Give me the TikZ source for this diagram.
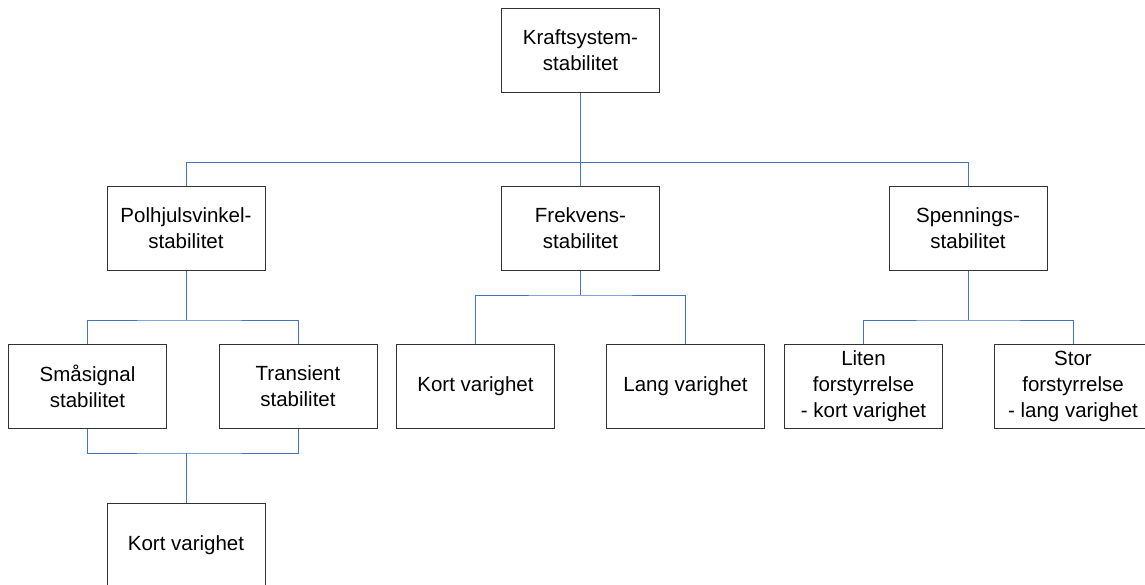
\documentclass[tikz,border=0pt]{standalone}
\usepackage{fontspec}
\setmainfont{Liberation Sans}
\definecolor{connblue}{RGB}{68,114,196}
\definecolor{boxgray}{RGB}{50,50,50}
\tikzset{
  box/.style={draw=boxgray, line width=1pt, fill=white, rectangle, minimum width=158pt, minimum height=84pt, inner sep=0pt, align=center, font=\fontsize{20.5pt}{26pt}\selectfont},
  conn/.style={draw=connblue, line width=1pt}
}
\begin{document}
\begin{tikzpicture}[x=1pt,y=-1pt]
\useasboundingbox (0,0) rectangle (1145,584);
\clip (0,0) rectangle (1145,584);
% nodes
\node[box] (top) at (580.5,50) {Kraftsystem-\\stabilitet};
\node[box] (pol) at (186,228) {Polhjulsvinkel-\\stabilitet};
\node[box] (frek) at (580.5,228) {Frekvens-\\stabilitet};
\node[box] (spen) at (968,228) {Spennings-\\stabilitet};
\node[box] (sma) at (87.5,386) {Småsignal\\stabilitet};
\node[box] (tra) at (298,386) {Transient\\stabilitet};
\node[box] (kort) at (475.5,386) {Kort varighet};
\node[box] (lang) at (685.5,386) {Lang varighet};
\node[box] (lit) at (863.5,386) {Liten\\forstyrrelse\\- kort varighet};
\node[box] (stor) at (1073,386) {Stor\\forstyrrelse\\- lang varighet};
\node[box] (kort2) at (186,545) {Kort varighet};
% bus coordinates
\coordinate (b1) at (580.5,162);
\coordinate (b2) at (186,320);
\coordinate (b3) at (580.5,295);
\coordinate (b4) at (968,320);
\coordinate (b5) at (186,453);
% connectors
\draw[conn] (top.south) -- (frek.north);
\draw[conn] (b1 -| pol.north) -- (b1 -| spen.north);
\draw[conn] (b1 -| pol.north) -- (pol.north);
\draw[conn] (b1 -| spen.north) -- (spen.north);
\draw[conn] (pol.south) -- (b2);
\draw[conn] (sma.north) |- (b2) -| (tra.north);
\draw[conn] (frek.south) -- (b3);
\draw[conn] (kort.north) |- (b3) -| (lang.north);
\draw[conn] (spen.south) -- (b4);
\draw[conn] (lit.north) |- (b4) -| (stor.north);
\draw[conn] (sma.south) |- (b5) -| (tra.south);
\draw[conn] (b5) -- (kort2.north);
\end{tikzpicture}
\end{document}
